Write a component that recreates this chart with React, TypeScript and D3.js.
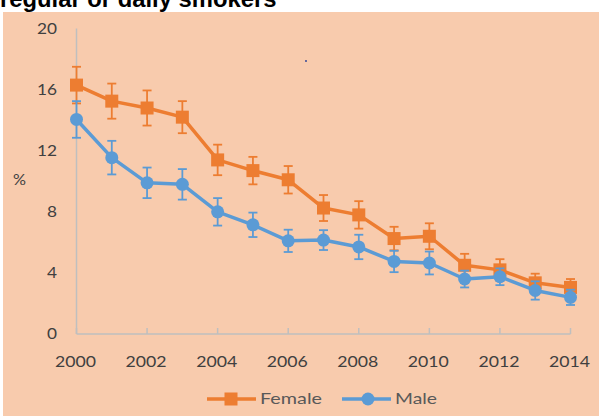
import React from "react";
import * as d3 from "d3";

const years = [2000, 2001, 2002, 2003, 2004, 2005, 2006, 2007, 2008, 2009, 2010, 2011, 2012, 2013, 2014];
const female = [16.3, 15.25, 14.8, 14.2, 11.4, 10.7, 10.1, 8.25, 7.8, 6.25, 6.4, 4.5, 4.2, 3.35, 3.05];
const femaleErr = [1.2, 1.15, 1.15, 1.05, 1.0, 0.9, 0.9, 0.85, 0.9, 0.77, 0.85, 0.75, 0.7, 0.6, 0.55];
const male = [14.05, 11.55, 9.9, 9.8, 8.0, 7.15, 6.1, 6.15, 5.7, 4.75, 4.65, 3.6, 3.75, 2.85, 2.4];
const maleErr = [1.2, 1.1, 1.0, 1.0, 0.9, 0.8, 0.73, 0.65, 0.8, 0.7, 0.75, 0.55, 0.55, 0.6, 0.5];
const yTicks = [0, 4, 8, 12, 16, 20];
const xTicks = [2000, 2002, 2004, 2006, 2008, 2010, 2012, 2014];
const title = "regular or daily smokers";
const seriesNames = ["Female", "Male"];

const ORANGE = "#ED7D31";
const BLUE = "#5B9BD5";
const AXIS = "#BFBFBF";
const TEXT = "#404040";
const FONT = "Lato, 'Open Sans', sans-serif";

export default function App() {
  const W = 599, H = 416;
  const x = d3.scaleLinear().domain([2000, 2014]).range([76.5, 570.5]);
  const y = d3.scaleLinear().domain([0, 20]).range([334, 28.6]);
  const line = d3.line<number>().x((_, i) => x(years[i])).y((d) => y(d));

  const series = [
    { name: seriesNames[0], vals: female, err: femaleErr, color: ORANGE, marker: "square" },
    { name: seriesNames[1], vals: male, err: maleErr, color: BLUE, marker: "circle" },
  ];

  return (
    <svg width={W} height={H} style={{ position: "absolute", left: 0, top: 0, display: "block" }}>
      <rect x={0} y={0} width={W} height={H} fill="#fff" />
      <rect x={3} y={12} width={W - 3} height={H - 12} fill="#F8CBAD" />
      <text x={0} y={7} fontFamily="Arial, 'Liberation Sans', sans-serif" fontWeight="bold" fontSize={23.8} fill="#000">
        {title}
      </text>
      {/* axes */}
      <line x1={x(2000)} x2={x(2000)} y1={y(0)} y2={y(20)} stroke={AXIS} strokeWidth={1.5} />
      <line x1={x(2000)} x2={x(2014)} y1={y(0)} y2={y(0)} stroke={AXIS} strokeWidth={1.5} />
      {xTicks.map((t) => (
        <line key={"xt" + t} x1={x(t)} x2={x(t)} y1={y(0)} y2={y(0) - 6} stroke={AXIS} strokeWidth={1.5} />
      ))}
      {yTicks.map((t) => (
        <text key={"yl" + t} x={57} y={y(t) + 1} textAnchor="end" dominantBaseline="middle" fontFamily={FONT} fontSize={16} fill={TEXT}
          textLength={String(t).length * 10} lengthAdjust="spacingAndGlyphs">
          {t}
        </text>
      ))}
      {xTicks.map((t) => (
        <text key={"xl" + t} x={x(t) - 1} y={363} textAnchor="middle" dominantBaseline="middle" fontFamily={FONT} fontSize={16} fill={TEXT}
          textLength={41} lengthAdjust="spacingAndGlyphs">
          {t}
        </text>
      ))}
      <text x={19.5} y={181} textAnchor="middle" dominantBaseline="middle" fontFamily={FONT} fontSize={15} fill={TEXT}
        textLength={13} lengthAdjust="spacingAndGlyphs">
        %
      </text>
      <circle cx={306} cy={61} r={0.9} fill="#1F3A93" />
      {series.map((s) => (
        <g key={s.name}>
          <path d={line(s.vals) || ""} fill="none" stroke={s.color} strokeWidth={3.5} strokeLinejoin="round" />
          {s.vals.map((v, i) => {
            const cx = x(years[i]);
            const top = y(v + s.err[i]);
            const bot = y(v - s.err[i]);
            return (
              <g key={"e" + i} stroke={s.color} strokeWidth={1.8}>
                <line x1={cx} x2={cx} y1={top} y2={bot} />
                <line x1={cx - 4.5} x2={cx + 4.5} y1={top} y2={top} />
                <line x1={cx - 4.5} x2={cx + 4.5} y1={bot} y2={bot} />
              </g>
            );
          })}
          {s.vals.map((v, i) =>
            s.marker === "square" ? (
              <rect key={"m" + i} x={x(years[i]) - 6.5} y={y(v) - 6.5} width={13} height={13} fill={s.color} />
            ) : (
              <circle key={"m" + i} cx={x(years[i])} cy={y(v)} r={6.5} fill={s.color} />
            )
          )}
        </g>
      ))}
      {/* legend */}
      <g>
        <line x1={207} x2={256} y1={399} y2={399} stroke={ORANGE} strokeWidth={3.5} />
        <rect x={224.5} y={392.5} width={13} height={13} fill={ORANGE} />
        <text x={260} y={400} dominantBaseline="middle" fontFamily={FONT} fontSize={16} fill="#595959"
          textLength={62} lengthAdjust="spacingAndGlyphs">
          {seriesNames[0]}
        </text>
        <line x1={342} x2={391} y1={399} y2={399} stroke={BLUE} strokeWidth={3.5} />
        <circle cx={368} cy={399} r={6.5} fill={BLUE} />
        <text x={395} y={400} dominantBaseline="middle" fontFamily={FONT} fontSize={16} fill="#595959"
          textLength={42} lengthAdjust="spacingAndGlyphs">
          {seriesNames[1]}
        </text>
      </g>
    </svg>
  );
}
